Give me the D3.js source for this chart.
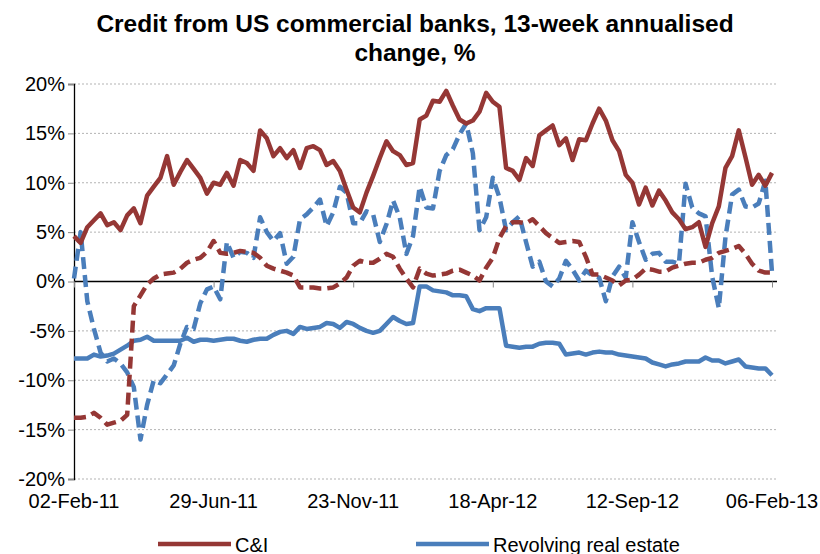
<!DOCTYPE html>
<html>
<head>
<meta charset="utf-8">
<script src="https://cdn.jsdelivr.net/npm/d3@7"></script>
<style>
  body { margin: 0; background: #fff; }
  svg { font-family: Arial, "Liberation Sans", sans-serif; }
  .grid line { stroke: #b3b3b3; stroke-dasharray: 2,2; }
  .axis text { fill: #000; }
</style>
</head>
<body>
<svg id="chart"></svg>
<script>
// weekly data, first week 02-Feb-11, last 06-Feb-13
const startDate = new Date(2011, 1, 2);
const tickWeeks = [0, 21, 42, 63, 84, 105];
const yTicks = [-20, -15, -10, -5, 0, 5, 10, 15, 20];

const cAndI = [4.6, 3.9, 5.5, 6.2, 6.9, 5.7, 6.0, 5.2, 6.7, 7.4, 5.9, 8.7, 9.6, 10.5, 12.7, 9.8, 11.1, 12.3, 11.4, 10.5,
  8.9, 10.0, 9.8, 11.0, 9.7, 12.3, 12.0, 11.2, 15.3, 14.5, 12.7, 13.5, 12.5, 13.3, 11.5, 13.5, 13.7, 13.3, 11.8, 12.2,
  11.2, 9.3, 7.5, 7.0, 9.0, 10.7, 12.5, 14.2, 13.2, 12.8, 11.8, 12.0, 16.4, 16.8, 18.3, 18.2, 19.3, 17.8, 16.4, 16.0,
  16.3, 17.2, 19.1, 18.2, 17.7, 11.5, 11.2, 10.3, 12.5, 11.7, 14.8, 15.3, 15.8, 13.8, 14.5, 12.3, 14.4, 14.3, 16.0, 17.5,
  16.3, 14.3, 13.2, 10.8, 10.0, 7.8, 9.5, 7.7, 9.2, 8.2, 7.0, 6.3, 5.3, 5.5, 6.0, 3.5, 5.9, 7.6, 11.5, 12.7,
  15.3, 12.6, 9.8, 10.8, 9.7, 11.0];

const revolvingRE = [-7.8, -7.8, -7.8, -7.4, -7.6, -7.5, -7.3, -6.9, -6.5, -6.0, -5.9, -5.6, -6.0, -6.0, -6.0, -6.0, -6.0, -5.7, -6.1, -5.9,
  -5.9, -6.0, -5.9, -5.8, -5.8, -6.0, -6.1, -5.9, -5.8, -5.8, -5.4, -5.1, -5.0, -5.3, -4.6, -4.8, -4.7, -4.6, -4.2, -4.3,
  -4.7, -4.1, -4.3, -4.7, -5.0, -5.2, -5.0, -4.3, -3.6, -4.0, -4.3, -4.2, -0.5, -0.5, -0.9, -1.0, -1.1, -1.4, -1.4, -1.5,
  -2.8, -3.0, -2.7, -2.7, -2.7, -6.5, -6.6, -6.7, -6.6, -6.6, -6.3, -6.2, -6.2, -6.3, -7.4, -7.3, -7.2, -7.4, -7.2, -7.1,
  -7.2, -7.2, -7.4, -7.5, -7.6, -7.7, -7.8, -8.2, -8.4, -8.6, -8.4, -8.3, -8.1, -8.1, -8.1, -7.7, -8.0, -8.0, -8.3, -8.1,
  -7.9, -8.6, -8.7, -8.8, -8.8, -9.5];

const consumer = [-13.8, -13.8, -13.7, -13.3, -13.8, -14.5, -14.3, -14.1, -13.5, -2.5, -1.4, -0.3, 0.3, 0.7, 0.8, 0.9, 1.3, 1.9, 2.2, 2.4,
  3.0, 4.1, 2.9, 2.8, 2.9, 3.1, 3.0, 2.9, 2.4, 1.6, 1.3, 1.1, 0.9, 0.6, -0.6, -0.6, -0.6, -0.7, -0.7, -0.6,
  -0.2, 0.4, 1.6, 2.1, 1.9, 1.9, 2.3, 2.8, 2.5, 1.3, 0.3, -0.6, 1.3, 0.8, 0.6, 0.7, 0.8, 1.1, 1.2, 0.9,
  0.6, 0.1, 1.4, 2.4, 4.4, 5.6, 6.0, 6.0, 5.9, 6.3, 5.6, 4.9, 4.4, 3.9, 4.0, 4.1, 4.0, 2.5, 0.7, 0.7,
  0.4, 0.1, -0.4, 0.1, 0.2, 0.7, 1.3, 1.2, 1.0, 1.0, 1.4, 1.6, 1.8, 1.9, 1.9, 2.2, 2.4, 2.9, 3.1, 3.3,
  3.6, 2.8, 1.8, 1.1, 0.9, 0.9];

const otherRE = [0.3, 5.0, -2.0, -4.8, -7.2, -8.1, -7.8, -8.3, -9.2, -10.7, -16.0, -12.5, -10.0, -10.3, -9.4, -8.5, -6.3, -4.6, -4.8, -2.2,
  -0.8, -0.5, -1.8, 4.0, 2.4, 3.0, 2.9, 2.4, 6.5, 5.0, 4.1, 4.9, 1.8, 2.5, 6.3, 6.8, 7.5, 8.3, 5.6, 7.0,
  9.6, 9.0, 5.9, 5.9, 7.1, 6.8, 4.0, 5.8, 8.2, 6.5, 2.8, 4.6, 9.6, 7.5, 7.4, 11.2, 12.8, 13.4, 14.9, 16.0,
  13.0, 5.2, 6.5, 10.5, 8.5, 5.2, 6.0, 6.6, 4.0, 1.5, 2.0, 0.0, -0.5, 0.3, 2.1, 1.2, 0.1, 1.1, 0.6, 0.4,
  -2.0, 0.5, 1.5, 0.4, 6.0, 4.0, 2.2, 2.8, 2.9, 2.0, 2.0, 1.8, 9.9, 7.5, 6.9, 6.6, 0.5, -2.7, 4.5, 8.8,
  9.3, 7.6, 7.5, 7.9, 10.2, 0.9];

const seriesNames = ['C&I', 'Revolving real estate', 'Consumer', 'Other real estate'];
const seriesData = [cAndI, revolvingRE, consumer, otherRE];
const seriesColors = ['#953735', '#4a7ebb', '#953735', '#4a7ebb'];
const seriesDash = [null, null, '12,6', '12,6'];

const config = {
  width: 820, height: 554,
  margin: { top: 84, right: 43, bottom: 75, left: 74 }
};

const week = i => d3.timeDay.offset(startDate, 7 * i);

const svg = d3.select('#chart')
  .attr('width', config.width)
  .attr('height', config.height);

const innerW = config.width - config.margin.left - config.margin.right;
const innerH = config.height - config.margin.top - config.margin.bottom;

const xScale = d3.scaleTime()
  .domain([week(0), week(105)])
  .range([0, 698]);

const yScale = d3.scaleLinear()
  .domain([-20, 20])
  .range([innerH, 0]);

const chart = svg.append('g')
  .attr('transform', `translate(${config.margin.left},${config.margin.top})`);

// title
svg.append('text')
  .attr('x', 415).attr('y', 32)
  .attr('text-anchor', 'middle')
  .style('font-weight', 'bold').style('font-size', '24.5px')
  .text('Credit from US commercial banks, 13-week annualised');
svg.append('text')
  .attr('x', 415).attr('y', 61)
  .attr('text-anchor', 'middle')
  .style('font-weight', 'bold').style('font-size', '24.5px')
  .text('change, %');

// gridlines
chart.append('g')
  .attr('class', 'grid')
  .selectAll('line')
  .data(yTicks.filter(d => d !== 0))
  .join('line')
  .attr('x1', 0).attr('x2', innerW)
  .attr('y1', d => yScale(d)).attr('y2', d => yScale(d));

// y axis
const yAxisG = chart.append('g')
  .attr('class', 'axis y-axis')
  .call(d3.axisLeft(yScale).tickValues(yTicks).tickSize(6).tickPadding(3).tickFormat(d => d + '%'));
yAxisG.select('.domain').attr('stroke', '#000').attr('stroke-width', 1.3);
yAxisG.selectAll('.tick line').attr('stroke', '#888');
yAxisG.selectAll('text').style('font-size', '20px');

// x axis along zero line, labels at the bottom
const xAxisG = chart.append('g')
  .attr('class', 'axis x-axis')
  .attr('transform', `translate(0,${yScale(0)})`)
  .call(d3.axisBottom(xScale).tickValues(tickWeeks.map(week)).tickSize(6).tickSizeOuter(0).tickFormat(''));
xAxisG.select('.domain').attr('d', `M0,0H${innerW}`).attr('stroke', '#000').attr('stroke-width', 1.3);
xAxisG.selectAll('.tick line').attr('stroke', '#888');

chart.append('g')
  .attr('class', 'axis x-labels')
  .selectAll('text')
  .data(tickWeeks)
  .join('text')
  .attr('x', d => xScale(week(d)))
  .attr('y', innerH + 29)
  .attr('text-anchor', 'middle')
  .style('font-size', '20px')
  .text(d => d3.timeFormat('%d-%b-%y')(week(d)));

// lines
const line = d3.line()
  .x((d, i) => xScale(week(i)))
  .y(d => yScale(d));

const order = [1, 3, 2, 0];
chart.selectAll('.series')
  .data(order)
  .join('path')
  .attr('class', 'series')
  .attr('fill', 'none')
  .attr('stroke', k => seriesColors[k])
  .attr('stroke-width', 4.5)
  .attr('stroke-linejoin', 'round')
  .attr('stroke-dasharray', k => seriesDash[k])
  .attr('d', k => line(seriesData[k]));

// legend (second row falls below the visible area, as in the original)
const legend = svg.append('g').attr('class', 'legend');
const legX = [158, 416];
seriesNames.forEach((name, k) => {
  const lx = legX[k % 2];
  const ly = 544 + Math.floor(k / 2) * 28;
  legend.append('line')
    .attr('x1', lx).attr('x2', lx + 73)
    .attr('y1', ly).attr('y2', ly)
    .attr('stroke', seriesColors[k])
    .attr('stroke-width', 4.5)
    .attr('stroke-dasharray', seriesDash[k]);
  legend.append('text')
    .attr('x', lx + 77).attr('y', ly + 8)
    .style('font-size', '20px')
    .text(name);
});
</script>
</body>
</html>
